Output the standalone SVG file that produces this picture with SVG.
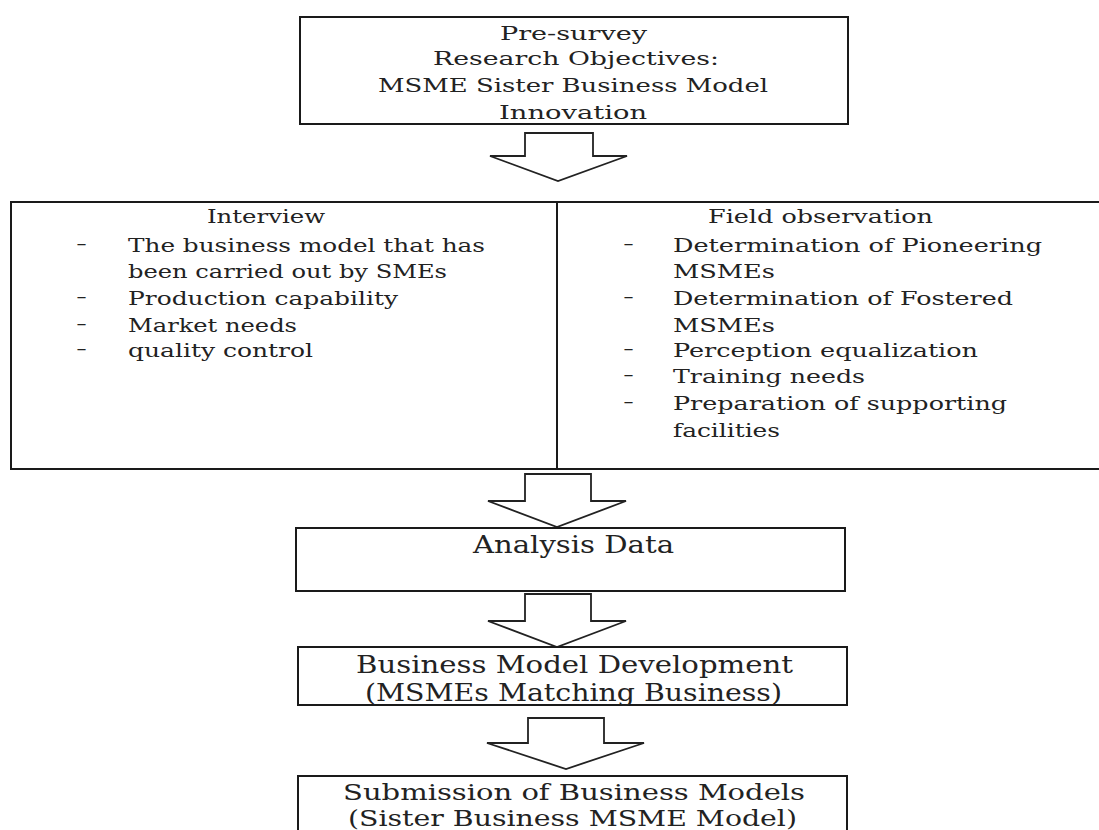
<svg xmlns="http://www.w3.org/2000/svg" width="1099" height="830" viewBox="0 0 1099 830">
<style>
.box{fill:#fff;stroke:#1a1a1a;stroke-width:2}
.arr{fill:#fff;stroke:#222;stroke-width:1.8;stroke-linejoin:miter}
text{font-family:"DejaVu Serif","Liberation Serif",serif;fill:#222}
.s{font-size:18px}
.l{font-size:23.5px}
.m{font-size:21.5px}
</style>
<rect width="1099" height="830" fill="#fff"/>
<g id="connectors">
<polygon class="arr" points="525,133 593,133 593,156 627,156 558,181 490,156 525,156"/>
<polygon class="arr" points="525,474 591,474 591,501 626,501 557,527 488,501 525,501"/>
<polygon class="arr" points="525,594 591,594 591,621 626,621 557,647 488,621 525,621"/>
<polygon class="arr" points="528,718 604,718 604,743 644,743 566,769 487,743 528,743"/>
</g>
<g id="presurvey">
<rect class="box" x="300" y="17" width="548" height="107"/>
<text class="s" x="500" y="40" textLength="147" lengthAdjust="spacingAndGlyphs">Pre-survey</text>
<text class="s" x="433" y="65" textLength="286" lengthAdjust="spacingAndGlyphs">Research Objectives:</text>
<text class="s" x="378" y="92" textLength="390" lengthAdjust="spacingAndGlyphs">MSME Sister Business Model</text>
<text class="s" x="499" y="119" textLength="148" lengthAdjust="spacingAndGlyphs">Innovation</text>
</g>
<g id="interview">
<rect class="box" x="11" y="202" width="546" height="267"/>
<text class="s" x="207" y="223" textLength="118" lengthAdjust="spacingAndGlyphs">Interview</text>
<text class="s" x="76" y="250" textLength="11" lengthAdjust="spacingAndGlyphs">-</text>
<text class="s" x="128" y="252" textLength="357" lengthAdjust="spacingAndGlyphs">The business model that has</text>
<text class="s" x="128" y="278" textLength="319" lengthAdjust="spacingAndGlyphs">been carried out by SMEs</text>
<text class="s" x="76" y="303" textLength="11" lengthAdjust="spacingAndGlyphs">-</text>
<text class="s" x="128" y="305" textLength="270" lengthAdjust="spacingAndGlyphs">Production capability</text>
<text class="s" x="76" y="330" textLength="11" lengthAdjust="spacingAndGlyphs">-</text>
<text class="s" x="128" y="332" textLength="169" lengthAdjust="spacingAndGlyphs">Market needs</text>
<text class="s" x="76" y="355" textLength="11" lengthAdjust="spacingAndGlyphs">-</text>
<text class="s" x="128" y="357" textLength="185" lengthAdjust="spacingAndGlyphs">quality control</text>
</g>
<g id="field-observation">
<rect class="box" x="557" y="202" width="560" height="267"/>
<text class="s" x="708" y="223" textLength="225" lengthAdjust="spacingAndGlyphs">Field observation</text>
<text class="s" x="623" y="250" textLength="11" lengthAdjust="spacingAndGlyphs">-</text>
<text class="s" x="673" y="252" textLength="369" lengthAdjust="spacingAndGlyphs">Determination of Pioneering</text>
<text class="s" x="673" y="278" textLength="102" lengthAdjust="spacingAndGlyphs">MSMEs</text>
<text class="s" x="623" y="303" textLength="11" lengthAdjust="spacingAndGlyphs">-</text>
<text class="s" x="673" y="305" textLength="340" lengthAdjust="spacingAndGlyphs">Determination of Fostered</text>
<text class="s" x="673" y="332" textLength="102" lengthAdjust="spacingAndGlyphs">MSMEs</text>
<text class="s" x="623" y="355" textLength="11" lengthAdjust="spacingAndGlyphs">-</text>
<text class="s" x="673" y="357" textLength="305" lengthAdjust="spacingAndGlyphs">Perception equalization</text>
<text class="s" x="623" y="381" textLength="11" lengthAdjust="spacingAndGlyphs">-</text>
<text class="s" x="673" y="383" textLength="192" lengthAdjust="spacingAndGlyphs">Training needs</text>
<text class="s" x="623" y="408" textLength="11" lengthAdjust="spacingAndGlyphs">-</text>
<text class="s" x="673" y="410" textLength="334" lengthAdjust="spacingAndGlyphs">Preparation of supporting</text>
<text class="s" x="673" y="437" textLength="107" lengthAdjust="spacingAndGlyphs">facilities</text>
</g>
<g id="analysis-data">
<rect class="box" x="296" y="528" width="549" height="63"/>
<text class="l" x="473" y="553" textLength="201" lengthAdjust="spacingAndGlyphs">Analysis Data</text>
</g>
<g id="business-model-development">
<rect class="box" x="298" y="647" width="549" height="58"/>
<text class="l" x="356" y="673" textLength="437" lengthAdjust="spacingAndGlyphs">Business Model Development</text>
<text class="l" x="365" y="701" textLength="417" lengthAdjust="spacingAndGlyphs">(MSMEs Matching Business)</text>
</g>
<g id="submission">
<rect class="box" x="298" y="776" width="549" height="80"/>
<text class="m" x="343" y="800" textLength="462" lengthAdjust="spacingAndGlyphs">Submission of Business Models</text>
<text class="m" x="348" y="826" textLength="449" lengthAdjust="spacingAndGlyphs">(Sister Business MSME Model)</text>
</g>
</svg>
